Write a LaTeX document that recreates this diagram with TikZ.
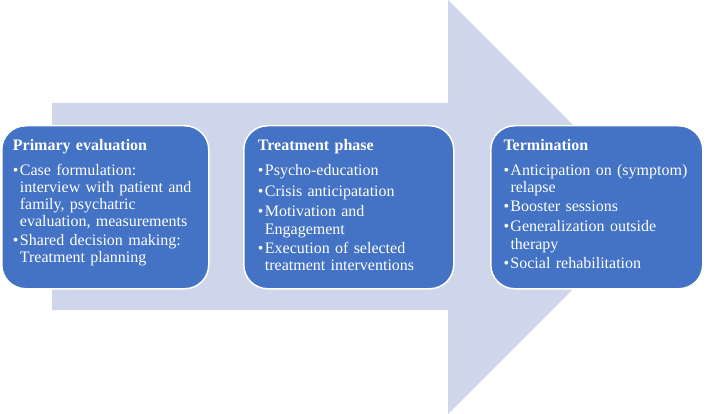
\documentclass[tikz,border=0pt]{standalone}
\usepackage{fontspec}
\setmainfont{Liberation Serif}
\definecolor{arrowfill}{HTML}{CFD5EA}
\definecolor{boxfill}{HTML}{4472C4}
\newcommand{\nl}{\hfil\break}
\newcommand{\bitem}[2][3.6pt]{\par\vspace{#1}\noindent\hbox to 7pt{\textbullet\hss}\parbox[t]{188pt}{\fontsize{16}{17.2}\selectfont #2}}
\tikzset{
  phasebox/.style={draw=white, line width=1.5pt, fill=boxfill, rounded corners=24pt, inner sep=0pt, anchor=north west},
  phasetext/.style={anchor=north west, inner sep=0pt, text width=195pt, align=left, text=white,
    font=\fontsize{16}{17.2}\selectfont}
}
\begin{document}
\begin{tikzpicture}[x=1pt,y=-1pt]
\useasboundingbox (0,0) rectangle (707,414);
% big background arrow
\fill[arrowfill] (52,103) -- (448,103) -- (448,0) -- (655,207) -- (448,414) -- (448,310) -- (52,310) -- cycle;
% boxes
\node[phasebox, minimum width=207pt, minimum height=163pt] (b1) at (1,125) {};
\node[phasebox, minimum width=210pt, minimum height=163pt] (b2) at (243,125) {};
\node[phasebox, minimum width=212pt, minimum height=163pt] (b3) at (490,125) {};
% texts
\node[phasetext] (t1) at (12.7,139) {\textbf{Primary evaluation}
\bitem[7.8pt]{Case formulation:\nl interview with patient and\nl family, psychatric\nl evaluation, measurements}
\bitem{Shared decision making:\nl Treatment planning}};
\node[phasetext] (t2) at (257.7,139) {\textbf{Treatment phase}
\bitem[7.8pt]{Psycho-education}
\bitem{Crisis anticipatation}
\bitem{Motivation and\nl Engagement}
\bitem{Execution of selected\nl treatment interventions}};
\node[phasetext] (t3) at (503.3,139) {\textbf{Termination}
\bitem[7.8pt]{Anticipation on (symptom)\nl relapse}
\bitem{Booster sessions}
\bitem{Generalization outside\nl therapy}
\bitem{Social rehabilitation}};
\end{tikzpicture}
\end{document}
